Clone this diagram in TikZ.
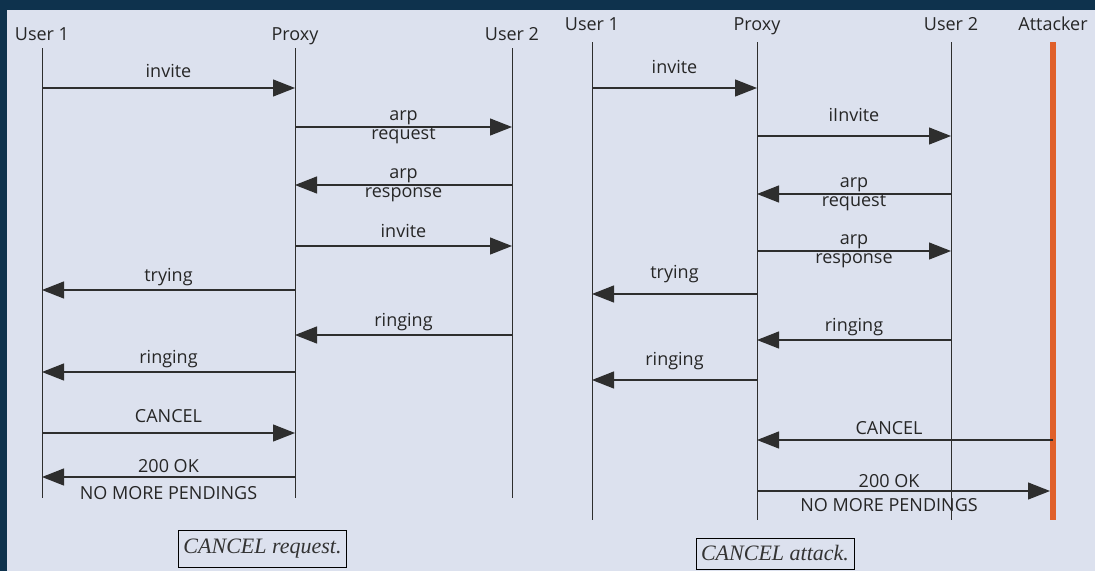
\documentclass[tikz,border=0pt]{standalone}
\usepackage{fontspec}
\setmainfont{Liberation Serif}
\setsansfont{Open Sans}
\usetikzlibrary{arrows.meta}
\definecolor{frameNavy}{HTML}{0E324D}
\definecolor{paneBlue}{HTML}{DCE1EE}
\definecolor{lineGray}{HTML}{2E2E2E}
\definecolor{attackOrange}{HTML}{E0602A}

\begin{document}
\begin{tikzpicture}[x=1pt,y=-1pt,
    actor/.style={font=\sffamily\fontsize{18}{19}\selectfont,text=black!85,inner sep=0pt,anchor=base},
    life/.style={lineGray,line width=1pt},
    msg/.style={lineGray,line width=1.2pt,-{Triangle[length=22pt,width=17pt]}},
    lbl/.style={font=\sffamily\fontsize{18}{19}\selectfont,text=black!85,inner sep=0pt,anchor=base,align=center,yshift=9pt},
    lbl2/.style={lbl,yshift=-21pt},
    caption/.style={draw=black,line width=0.8pt,font=\rmfamily\itshape\fontsize{22}{24}\selectfont,text=black!80,inner xsep=5pt}]

  % frame and pane
  \fill[frameNavy] (0,0) rectangle (1095,571);
  \fill[paneBlue] (7,10) rectangle (1095,571);

  % --- cancel request ---
  \node[actor] (u1) at (42,40) {User 1};
  \node[actor] (px) at (295,40) {Proxy};
  \node[actor] (u2) at (512,40) {User 2};
  \foreach \n in {u1,px,u2}
    \draw[life] (\n |- 0,48) -- (\n |- 0,498);

  \draw[msg] (u1 |- 0,88) -- node[lbl,yshift=2pt]{invite} (px |- 0,88);
  \draw[msg] (px |- 0,127) -- node[lbl2]{arp\\request} (u2 |- 0,127);
  \draw[msg] (u2 |- 0,185) -- node[lbl2]{arp\\response} (px |- 0,185);
  \draw[msg] (px |- 0,246) -- node[lbl]{invite} (u2 |- 0,246);
  \draw[msg] (px |- 0,290) -- node[lbl]{trying} (u1 |- 0,290);
  \draw[msg] (u2 |- 0,335) -- node[lbl]{ringing} (px |- 0,335);
  \draw[msg] (px |- 0,372) -- node[lbl]{ringing} (u1 |- 0,372);
  \draw[msg] (u1 |- 0,433) -- node[lbl,yshift=2pt]{CANCEL} (px |- 0,433);
  \draw[msg] (px |- 0,477) -- node[lbl,yshift=-31pt]{200 OK\\[8pt]NO MORE PENDINGS} (u1 |- 0,477);

  \node[caption,minimum height=37pt] (capReq) at (262.5,548.5) {CANCEL request.};

  % --- cancel attack ---
  \node[actor] (v1) at (592,30) {User 1};
  \node[actor] (qx) at (757,30) {Proxy};
  \node[actor] (v2) at (951,30) {User 2};
  \node[actor] (at) at (1053,30) {Attacker};
  \foreach \n in {v1,qx,v2}
    \draw[life] (\n |- 0,42) -- (\n |- 0,520);
  \draw[attackOrange,line width=6pt] (at |- 0,42) -- (at |- 0,520);

  \draw[msg] (v1 |- 0,88) -- node[lbl,yshift=6pt]{invite} (qx |- 0,88);
  \draw[msg] (qx |- 0,136) -- node[lbl,yshift=6pt]{iInvite} (v2 |- 0,136);
  \draw[msg] (v2 |- 0,194) -- node[lbl2]{arp\\request} (qx |- 0,194);
  \draw[msg] (qx |- 0,251) -- node[lbl2]{arp\\response} (v2 |- 0,251);
  \draw[msg] (qx |- 0,294) -- node[lbl,yshift=7pt]{trying} (v1 |- 0,294);
  \draw[msg] (v2 |- 0,340) -- node[lbl]{ringing} (qx |- 0,340);
  \draw[msg] (qx |- 0,380) -- node[lbl,yshift=6pt]{ringing} (v1 |- 0,380);
  \draw[msg] (at |- 0,440) -- node[lbl,pos=0.554,yshift=-3pt]{CANCEL} (qx |- 0,440);
  \draw[msg,shorten >=3pt] (qx |- 0,491) -- node[lbl,pos=0.446,yshift=-29pt]{200 OK\\[5pt]NO MORE PENDINGS} (at |- 0,491);

  \node[caption,minimum height=31pt] (capAtk) at (775,553.5) {CANCEL attack.};
\end{tikzpicture}
\end{document}
